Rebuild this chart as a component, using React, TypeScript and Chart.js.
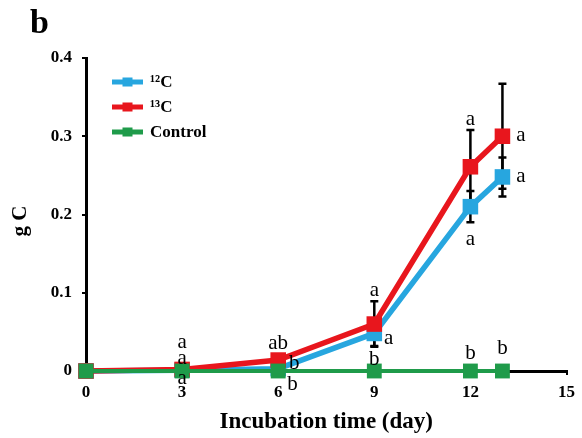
import React, { useEffect, useRef } from "react";
import { Chart, registerables } from "chart.js";

Chart.register(...registerables);

// ---- data ----
const days = [0, 3, 6, 9, 12, 13];
const c12Values = [0, 0.001, 0.003, 0.048, 0.21, 0.248];
const c13Values = [0, 0.002, 0.014, 0.06, 0.261, 0.3];
const controlValues = [0, 0, 0, 0, 0, 0];
const c12Errors = [0, 0, 0, 0.016, 0.02, 0.025];
const c13Errors = [0, 0, 0, 0.029, 0.047, 0.067];
const seriesNames = ["\u00B9\u00B2C", "\u00B9\u00B3C", "Control"];
const xTickStep = 3;
const xMax = 15;
const yMax = 0.4;
const yTickStep = 0.1;
const xTitle = "Incubation time (day)";
const yTitle = "g C";
const panelLabel = "b";
// significance letters (positioned in data coordinates: day, g C)
const letterTexts = ["a", "a", "a", "ab", "b", "b", "a", "a", "b", "a", "a", "b", "a", "a", "b"];
const letterDays = [3, 3, 3, 6, 6.5, 6.45, 9, 9.45, 9, 12, 12, 12, 13.58, 13.58, 13];
const letterValues = [0.036, 0.015, -0.01, 0.037, 0.0115, -0.015, 0.102, 0.041, 0.016, 0.321, 0.168, 0.024, 0.3, 0.248, 0.031];

const BLUE = "#27A6DF";
const RED = "#E8161D";
const GREEN = "#1F9B4A";
const SERIF = "'Times New Roman', 'Liberation Serif', serif";

export default function App() {
  const canvasRef = useRef<HTMLCanvasElement | null>(null);

  useEffect(() => {
    document.body.style.margin = "0";
    const canvas = canvasRef.current;
    if (!canvas) return;

    const errorBars = {
      id: "errorBars",
      beforeDatasetsDraw(chart: any) {
        const { ctx } = chart;
        const xs = chart.scales.x;
        const ys = chart.scales.y;
        ctx.save();
        ctx.strokeStyle = "#000";
        ctx.lineWidth = 2.5;
        const sets: [number[], number[]][] = [
          [c12Values, c12Errors],
          [c13Values, c13Errors],
        ];
        sets.forEach(([vals, errs]) => {
          days.forEach((d, i) => {
            const e = errs[i];
            if (!e) return;
            const x = xs.getPixelForValue(d);
            const y1 = ys.getPixelForValue(vals[i] + e);
            const y2 = ys.getPixelForValue(vals[i] - e);
            ctx.beginPath();
            ctx.moveTo(x, y1);
            ctx.lineTo(x, y2);
            ctx.moveTo(x - 4, y1);
            ctx.lineTo(x + 4, y1);
            ctx.moveTo(x - 4, y2);
            ctx.lineTo(x + 4, y2);
            ctx.stroke();
          });
        });
        ctx.restore();
      },
    };

    const annotations = {
      id: "annotations",
      afterDraw(chart: any) {
        const { ctx, chartArea } = chart;
        const xs = chart.scales.x;
        const ys = chart.scales.y;
        ctx.save();
        // letters
        ctx.fillStyle = "#000";
        ctx.font = `21px ${SERIF}`;
        ctx.textAlign = "center";
        ctx.textBaseline = "alphabetic";
        letterTexts.forEach((t, i) => {
          const x = xs.getPixelForValue(letterDays[i]);
          const yc = ys.getPixelForValue(letterValues[i]);
          const m = ctx.measureText(t);
          const yb = yc + (m.actualBoundingBoxAscent - m.actualBoundingBoxDescent) / 2;
          ctx.fillText(t, x, yb);
        });
        // legend
        const colors = [BLUE, RED, GREEN];
        const lx0 = chartArea.left + 26;
        const lx1 = chartArea.left + 57;
        seriesNames.forEach((name, i) => {
          const y = chartArea.top + 24 + i * 25;
          ctx.strokeStyle = colors[i];
          ctx.lineWidth = 5;
          ctx.beginPath();
          ctx.moveTo(lx0, y);
          ctx.lineTo(lx1, y);
          ctx.stroke();
          ctx.fillStyle = colors[i];
          ctx.fillRect((lx0 + lx1) / 2 - 5, y - 4.5, 10, 9);
          ctx.fillStyle = "#000";
          ctx.font = `bold 17px ${SERIF}`;
          ctx.textAlign = "left";
          ctx.textBaseline = "middle";
          ctx.fillText(name, lx1 + 7, y + 1);
        });
        // axis titles
        ctx.fillStyle = "#000";
        ctx.font = `bold 23px ${SERIF}`;
        ctx.textAlign = "center";
        ctx.textBaseline = "alphabetic";
        ctx.fillText(xTitle, (chartArea.left + chartArea.right) / 2, 428);
        ctx.save();
        ctx.translate(21, 221);
        ctx.rotate(-Math.PI / 2);
        ctx.font = `bold 21px ${SERIF}`;
        ctx.textBaseline = "middle";
        ctx.fillText(yTitle, 0, 0);
        ctx.restore();
        // panel label
        ctx.font = `bold 34px ${SERIF}`;
        ctx.textAlign = "left";
        ctx.textBaseline = "alphabetic";
        ctx.fillText(panelLabel, 30, 33);
        ctx.restore();
      },
    };

    const toPts = (vals: number[]) => days.map((d, i) => ({ x: d, y: vals[i] }));

    const chart = new Chart(canvas, {
      type: "line",
      data: {
        datasets: [
          {
            label: seriesNames[0],
            data: toPts(c12Values),
            borderColor: BLUE,
            backgroundColor: BLUE,
            borderWidth: 5.5,
            pointStyle: "rect",
            pointRadius: 11,
            pointBorderWidth: 0,
            pointBackgroundColor: BLUE,
            tension: 0,
            clip: false as any,
            order: 2,
          },
          {
            label: seriesNames[1],
            data: toPts(c13Values),
            borderColor: RED,
            backgroundColor: RED,
            borderWidth: 5.5,
            pointStyle: "rect",
            pointRadius: 11,
            pointBorderWidth: 0,
            pointBackgroundColor: RED,
            tension: 0,
            clip: false as any,
            order: 1,
          },
          {
            label: seriesNames[2],
            data: toPts(controlValues),
            borderColor: GREEN,
            backgroundColor: GREEN,
            borderWidth: 4,
            pointStyle: "rect",
            pointRadius: 10.5,
            pointBorderWidth: 0,
            pointBackgroundColor: GREEN,
            tension: 0,
            clip: false as any,
            order: 0,
          },
        ],
      },
      options: {
        animation: false,
        responsive: false,
        maintainAspectRatio: false,
        layout: { padding: { top: 58, right: 11, left: 0, bottom: 0 } },
        plugins: {
          legend: { display: false },
          tooltip: { enabled: false },
          title: { display: false },
        },
        scales: {
          x: {
            type: "linear",
            min: 0,
            max: xMax,
            afterFit: (s: any) => {
              s.height = 67;
            },
            ticks: {
              stepSize: xTickStep,
              color: "#000",
              font: { family: SERIF, weight: "bold", size: 17 },
              padding: 7,
              maxRotation: 0,
            },
            grid: {
              display: true,
              drawOnChartArea: false,
              drawTicks: true,
              tickLength: 4,
              color: "#000",
              lineWidth: 2,
            },
            border: { display: true, color: "#000", width: 3 },
          },
          y: {
            type: "linear",
            min: 0,
            max: yMax,
            afterFit: (s: any) => {
              s.width = 86;
            },
            ticks: {
              stepSize: yTickStep,
              color: "#000",
              font: { family: SERIF, weight: "bold", size: 17 },
              padding: 10,
              callback: (v: any) => (Number(v) === 0 ? "0" : Number(v).toFixed(1)),
            },
            grid: {
              display: true,
              drawOnChartArea: false,
              drawTicks: true,
              tickLength: 4,
              color: "#000",
              lineWidth: 2,
            },
            border: { display: true, color: "#000", width: 3 },
          },
        },
      },
      plugins: [errorBars, annotations],
    } as any);

    return () => chart.destroy();
  }, []);

  return (
    <div style={{ width: 582, height: 438, background: "#fff" }}>
      <canvas ref={canvasRef} width={582} height={438} style={{ display: "block" }} />
    </div>
  );
}
